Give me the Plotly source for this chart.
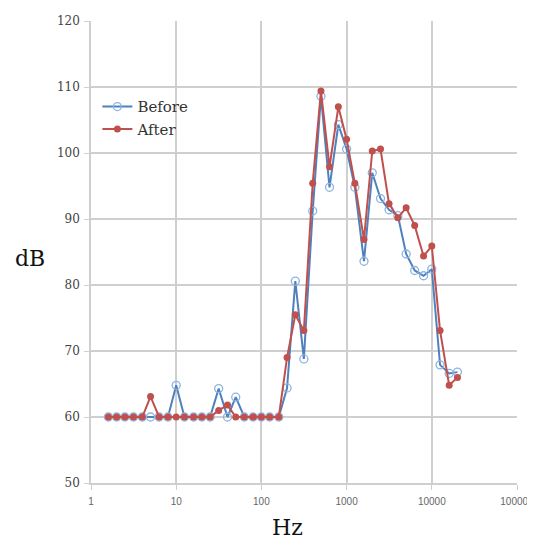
import plotly.graph_objects as go

freqs = [1.6, 2, 2.5, 3.15, 4, 5, 6.3, 8, 10, 12.5, 16, 20, 25, 31.5, 40, 50, 63, 80,
         100, 125, 160, 200, 250, 315, 400, 500, 630, 800, 1000, 1250, 1600, 2000,
         2500, 3150, 4000, 5000, 6300, 8000, 10000, 12500, 16000, 20000]
before = [60, 60, 60, 60, 60, 60, 60, 60, 64.8, 60, 60, 60, 60, 64.3, 60, 63, 60, 60,
          60, 60, 60, 64.4, 80.6, 68.8, 91.2, 108.6, 94.8, 104.3, 100.6, 94.8, 83.6, 97.0,
          93.1, 91.4, 90.5, 84.7, 82.2, 81.4, 82.4, 67.9, 66.6, 66.8]
after = [60, 60, 60, 60, 60, 63.1, 60, 60, 60, 60, 60, 60, 60, 61.0, 61.8, 60, 60, 60,
         60, 60, 60, 69.0, 75.5, 73.1, 95.4, 109.4, 97.9, 107.0, 102.1, 95.4, 86.9, 100.3,
         100.6, 92.3, 90.2, 91.7, 89.0, 84.4, 85.9, 73.1, 64.8, 66.0]
x_ticks = [1, 10, 100, 1000, 10000, 100000]
x_tick_labels = ["1", "10", "100", "1000", "10000", "100000"]
y_ticks = [50, 60, 70, 80, 90, 100, 110, 120]

blue = "#4F81BD"
red = "#C0504D"
grid = "#CFCFCF"
serif = "DejaVu Serif"

fig = go.Figure()
fig.add_trace(go.Scatter(
    x=freqs, y=before, name="Before", mode="lines+markers",
    line=dict(color=blue, width=2),
    marker=dict(symbol="circle", size=8, color="rgba(255,255,255,0)",
                line=dict(color="#8DB3E2", width=1.3)),
))
fig.add_trace(go.Scatter(
    x=freqs, y=after, name="After", mode="lines+markers",
    line=dict(color=red, width=2),
    marker=dict(symbol="circle", size=7, color=red),
))

fig.update_layout(
    width=535, height=541, autosize=False,
    margin=dict(l=83, r=26, t=13, b=66),
    paper_bgcolor="white", plot_bgcolor="white",
    showlegend=True,
    legend=dict(x=0.015, y=0.85, xanchor="left", yanchor="top",
                bgcolor="rgba(0,0,0,0)", font=dict(family=serif, size=15, color="#333"),
                itemwidth=30, tracegroupgap=0),
    xaxis=dict(type="log", range=[0, 5], tickvals=x_ticks, ticktext=x_tick_labels,
               showgrid=True, gridcolor=grid, gridwidth=1.5,
               showline=True, linecolor=grid, linewidth=1.5,
               ticks="outside", ticklen=5, tickcolor=grid,
               tickfont=dict(family="Liberation Sans", size=10, color="#666"),
               ticklabelstandoff=3, automargin=False,
               zeroline=False),
    yaxis=dict(range=[50, 120], tickvals=y_ticks,
               showgrid=True, gridcolor=grid, gridwidth=1.5,
               showline=True, linecolor=grid, linewidth=1.5,
               ticks="outside", ticklen=5, tickcolor=grid,
               tickfont=dict(family=serif, size=12, color="#444"),
               ticklabelstandoff=2, automargin=False,
               zeroline=False),
)
fig.add_annotation(text="Hz", xref="paper", yref="paper", x=0.462, y=-0.097,
                   xanchor="center", yanchor="middle", showarrow=False,
                   font=dict(family=serif, size=22, color="#111"))
fig.add_annotation(text="dB", xref="paper", yref="paper", x=-0.143, y=0.485,
                   xanchor="center", yanchor="middle", showarrow=False,
                   font=dict(family=serif, size=22, color="#111"))

fig.write_html("out.html")
